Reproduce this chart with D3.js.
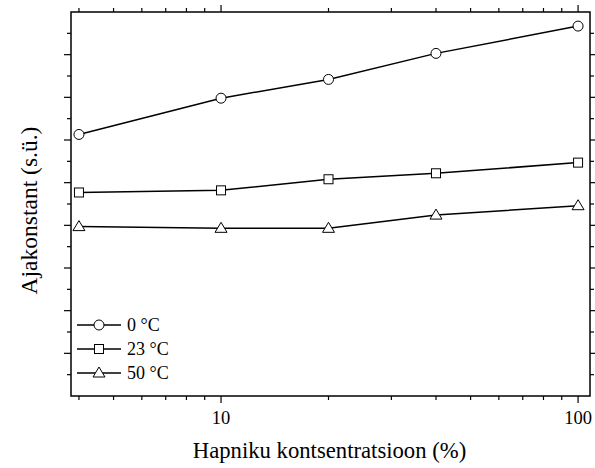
<!DOCTYPE html>
<html><head><meta charset="utf-8">
<script src="https://cdn.jsdelivr.net/npm/d3@7"></script>
<style>body{margin:0;background:#fff}svg{display:block}text{font-family:"Liberation Serif","Times New Roman",serif;fill:#000}</style>
</head><body><svg id="c" width="595" height="468"></svg>
<script>
const xValues = [4, 10, 20, 40, 100];
const series0C = [6.13, 6.98, 7.42, 8.03, 8.67];
const series23C = [4.77, 4.82, 5.08, 5.22, 5.47];
const series50C = [3.97, 3.93, 3.93, 4.24, 4.46];
const seriesNames = ["0 °C", "23 °C", "50 °C"];
const seriesShapes = ["circle", "square", "triangle"];
const xTickLabels = [10, 100];

const svg = d3.select("#c");
const L = 71, R = 590, T = 12, B = 396;
const x = d3.scaleLog().domain([3.8, 108]).range([L, R]);
const y = d3.scaleLinear().domain([0, 9]).range([B, T]);

const all = [series0C, series23C, series50C];

svg.append("rect").attr("x", L).attr("y", T).attr("width", R - L).attr("height", B - T)
  .attr("fill", "none").attr("stroke", "#000").attr("stroke-width", 1.5);

const minorX = [4,5,6,7,8,9,20,30,40,50,60,70,80,90];
const majorX = [10, 100];
function xt(vals, len) {
  vals.forEach(v => {
    const px = x(v);
    svg.append("line").attr("x1", px).attr("x2", px).attr("y1", B).attr("y2", B + len).attr("stroke", "#000").attr("stroke-width", 1.2);
    svg.append("line").attr("x1", px).attr("x2", px).attr("y1", T).attr("y2", T - len).attr("stroke", "#000").attr("stroke-width", 1.2);
  });
}
xt(minorX, 4); xt(majorX, 7);
xTickLabels.forEach(v => {
  svg.append("text").attr("x", x(v)).attr("y", 424).attr("text-anchor", "middle").attr("font-size", 18.5).text(v);
});

const yMajor = d3.range(1, 9);
const yMinor = d3.range(0.5, 9, 1);
function yt(vals, len) {
  vals.forEach(v => {
    const py = y(v);
    svg.append("line").attr("x1", L).attr("x2", L - len).attr("y1", py).attr("y2", py).attr("stroke", "#000").attr("stroke-width", 1.2);
    svg.append("line").attr("x1", R).attr("x2", R + len).attr("y1", py).attr("y2", py).attr("stroke", "#000").attr("stroke-width", 1.2);
  });
}
yt(yMinor, 4); yt(yMajor, 7);

function marker(g, shape, cx, cy) {
  if (shape === "circle") g.append("circle").attr("cx", cx).attr("cy", cy).attr("r", 5).attr("fill", "#fff").attr("stroke", "#000").attr("stroke-width", 1);
  else if (shape === "square") g.append("rect").attr("x", cx - 4.5).attr("y", cy - 4.5).attr("width", 9).attr("height", 9).attr("fill", "#fff").attr("stroke", "#000").attr("stroke-width", 1);
  else g.append("path").attr("d", `M${cx},${cy - 6}L${cx + 6},${cy + 4}L${cx - 6},${cy + 4}Z`).attr("fill", "#fff").attr("stroke", "#000").attr("stroke-width", 1);
}

const line = d3.line().x((d, i) => x(xValues[i])).y(d => y(d));
all.forEach((s, k) => {
  const g = svg.append("g");
  g.append("path").attr("d", line(s)).attr("fill", "none").attr("stroke", "#000").attr("stroke-width", 1.5);
  s.forEach((v, i) => marker(g, seriesShapes[k], x(xValues[i]), y(v)));
});

const legY = [325, 349, 373];
seriesNames.forEach((n, k) => {
  const g = svg.append("g");
  g.append("line").attr("x1", 77).attr("x2", 121).attr("y1", legY[k]).attr("y2", legY[k]).attr("stroke", "#000").attr("stroke-width", 1.5);
  marker(g, seriesShapes[k], 99, legY[k]);
  g.append("text").attr("x", 127).attr("y", legY[k] + 6).attr("font-size", 18).text(n);
});

svg.append("text").attr("x", 329.5).attr("y", 458).attr("text-anchor", "middle").attr("font-size", 22.7).text("Hapniku kontsentratsioon (%)");
svg.append("text").attr("transform", "translate(37,210.5) rotate(-90)").attr("text-anchor", "middle").attr("font-size", 23.5).text("Ajakonstant (s.ü.)");
</script></body></html>
